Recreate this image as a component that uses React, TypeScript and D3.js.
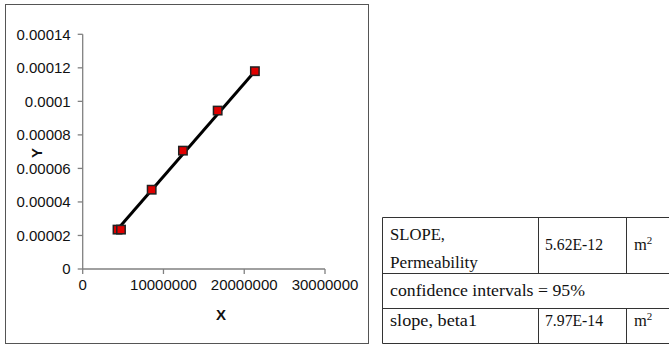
import React from "react";
import * as d3 from "d3";

const xValues = [4.31e6, 4.74e6, 8.54e6, 12.41e6, 16.71e6, 21.32e6];
const yValues = [2.35e-5, 2.35e-5, 4.73e-5, 7.06e-5, 9.45e-5, 1.18e-4];
const trendX = [4.35e6, 21.32e6];
const trendY = [2.38e-5, 1.18e-4];
const xTicks = [0, 1e7, 2e7, 3e7];
const xTickLabels = ["0", "10000000", "20000000", "30000000"];
const yTicks = [0, 2e-5, 4e-5, 6e-5, 8e-5, 1e-4, 1.2e-4, 1.4e-4];
const yTickLabels = ["0", "0.00002", "0.00004", "0.00006", "0.00008", "0.0001", "0.00012", "0.00014"];
const tableRow1 = ["SLOPE,", "Permeability", "5.62E-12", "m"];
const tableRow2 = ["confidence intervals = 95%"];
const tableRow3 = ["slope, beta1", "7.97E-14", "m"];

export default function App() {
  const x = d3.scaleLinear().domain([0, 3e7]).range([82.7, 325]);
  const y = d3.scaleLinear().domain([0, 1.4e-4]).range([269, 34.3]);
  const line = d3.line<number>().x((d, i) => x(trendX[i])).y((d, i) => y(trendY[i]));
  const sans = "'Liberation Sans', Arial, sans-serif";
  const serif = "'Liberation Serif', 'Times New Roman', serif";
  const axisColor = "#808080";
  const tl = { fontFamily: serif, fontSize: 16.5, fill: "#111" } as const;
  return (
    <svg width={669} height={348} style={{ position: "absolute", left: 0, top: 0, background: "#fff" }}>
      <rect x={5.5} y={4.5} width={363} height={339} fill="#fff" stroke="#555" strokeWidth={1} />
      <line x1={x(0)} x2={x(0)} y1={y(1.4e-4)} y2={y(0)} stroke={axisColor} strokeWidth={1.3} />
      <line x1={x(0)} x2={x(3e7)} y1={y(0)} y2={y(0)} stroke={axisColor} strokeWidth={1.3} />
      {yTicks.map((t, i) => (
        <g key={"y" + i}>
          <line x1={x(0) - 5} x2={x(0)} y1={y(t)} y2={y(t)} stroke={axisColor} strokeWidth={1.3} />
          <text x={70.7} y={y(t)} dy="0.36em" textAnchor="end" fontFamily={sans} fontSize={15} fill="#111">
            {yTickLabels[i]}
          </text>
        </g>
      ))}
      {xTicks.map((t, i) => (
        <g key={"x" + i}>
          <line x1={x(t)} x2={x(t)} y1={y(0)} y2={y(0) + 5} stroke={axisColor} strokeWidth={1.3} />
          <text x={x(t)} y={290} textAnchor="middle" fontFamily={sans} fontSize={15} fill="#111">
            {xTickLabels[i]}
          </text>
        </g>
      ))}
      <text x={221} y={319.5} textAnchor="middle" fontFamily={sans} fontSize={15} fontWeight="bold" fill="#111">X</text>
      <text transform="translate(37,153) rotate(-90)" textAnchor="middle" dy="0.36em" fontFamily={sans} fontSize={15} fontWeight="bold" fill="#111">Y</text>
      <path d={line(trendX) || ""} fill="none" stroke="#000" strokeWidth={3} />
      {xValues.map((v, i) => (
        <rect key={"p" + i} x={x(v) - 4.2} y={y(yValues[i]) - 4.2} width={8.4} height={8.4} fill="#e00000" stroke="#222" strokeWidth={1.5} />
      ))}
      <g stroke="#333" strokeWidth={1}>
        <line x1={382.5} x2={669} y1={217.5} y2={217.5} />
        <line x1={382.5} x2={669} y1={273.5} y2={273.5} />
        <line x1={382.5} x2={669} y1={308.5} y2={308.5} />
        <line x1={382.5} x2={669} y1={343.5} y2={343.5} />
        <line x1={382.5} x2={382.5} y1={217.5} y2={343.5} />
        <line x1={538.5} x2={538.5} y1={217.5} y2={273.5} />
        <line x1={626.5} x2={626.5} y1={217.5} y2={273.5} />
        <line x1={538.5} x2={538.5} y1={308.5} y2={343.5} />
        <line x1={626.5} x2={626.5} y1={308.5} y2={343.5} />
      </g>
      <text x={390} y={240} {...tl} textLength={55} lengthAdjust="spacingAndGlyphs">{tableRow1[0]}</text>
      <text x={390} y={268} {...tl} textLength={88} lengthAdjust="spacingAndGlyphs">{tableRow1[1]}</text>
      <text x={545} y={250} {...tl} textLength={58} lengthAdjust="spacingAndGlyphs">{tableRow1[2]}</text>
      <text x={634} y={250} {...tl}>{tableRow1[3]}<tspan dy={-6} fontSize={11}>2</tspan></text>
      <text x={390} y={296} {...tl} textLength={195} lengthAdjust="spacingAndGlyphs">{tableRow2[0]}</text>
      <text x={390} y={326} {...tl} textLength={87} lengthAdjust="spacingAndGlyphs">{tableRow3[0]}</text>
      <text x={545} y={326} {...tl} textLength={58} lengthAdjust="spacingAndGlyphs">{tableRow3[1]}</text>
      <text x={634} y={326} {...tl}>{tableRow3[2]}<tspan dy={-6} fontSize={11}>2</tspan></text>
    </svg>
  );
}
